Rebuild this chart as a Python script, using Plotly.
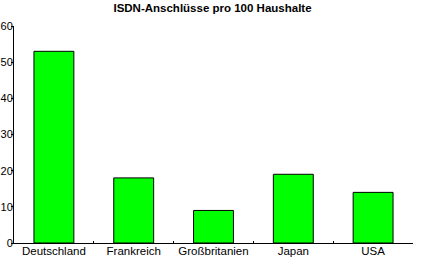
import plotly.graph_objects as go

categories = ["Deutschland", "Frankreich", "Großbritanien", "Japan", "USA"]
values = [53, 18, 9, 19, 14]
y_ticks = [0, 10, 20, 30, 40, 50, 60]
title_text = "ISDN-Anschlüsse pro 100 Haushalte"

fig = go.Figure(go.Bar(
    x=categories, y=values,
    marker=dict(color="#00ff00", line=dict(color="black", width=1)),
))

fig.update_layout(
    width=425, height=263,
    margin=dict(l=14, r=12, t=26, b=20),
    paper_bgcolor="white", plot_bgcolor="white",
    bargap=0.5,
    showlegend=False,
    font=dict(family="Liberation Sans, Arial, sans-serif", size=11.5, color="black"),
    title=dict(text="<b>" + title_text + "</b>", x=0.5, xanchor="center",
               y=1 - 8 / 263, yanchor="middle",
               font=dict(size=11.5, color="black")),
)
fig.update_xaxes(
    showline=True, linecolor="black", linewidth=1,
    ticks="inside", ticklen=2, tickcolor="black", tickson="boundaries",
    ticklabelstandoff=-3,
    showgrid=False, automargin=False, fixedrange=True,
)
fig.update_yaxes(
    range=[0, 60], tickvals=y_ticks,
    showline=True, linecolor="black", linewidth=1,
    ticks="outside", ticklen=2, tickcolor="black",
    ticklabelstandoff=-4, tickfont=dict(size=11),
    showgrid=False, zeroline=False, automargin=False, fixedrange=True,
)

fig.write_html("out.html")
